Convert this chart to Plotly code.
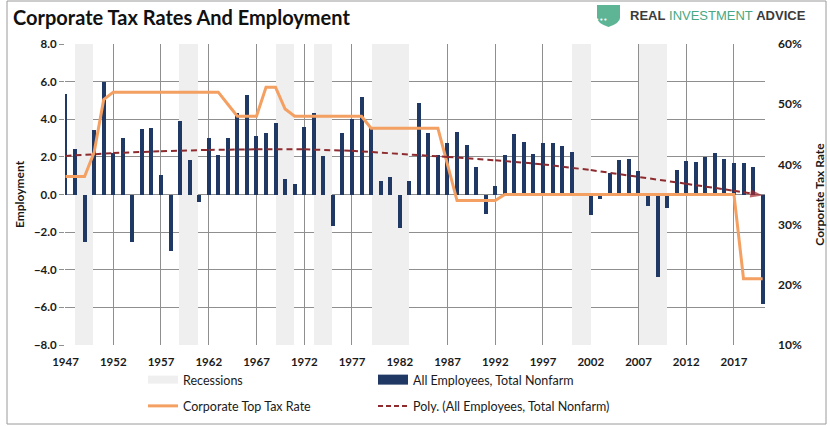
import plotly.graph_objects as go

# ---------------- data ----------------
years = list(range(1947, 2021))
employment = [5.35, 2.42, -2.5, 3.43, 5.97, 2.19, 2.99, -2.5, 3.47, 3.52,
              1.04, -2.99, 3.89, 1.84, -0.38, 2.99, 2.08, 2.99, 4.35, 5.29,
              3.11, 3.25, 3.79, 0.81, 0.56, 3.57, 4.32, 2.05, -1.68, 3.25,
              4.02, 5.2, 3.57, 0.74, 0.91, -1.8, 0.74, 4.85, 3.25, 2.1,
              2.72, 3.31, 2.62, 1.45, -1.04, 0.45, 2.1, 3.2, 2.79, 2.15,
              2.72, 2.72, 2.58, 2.24, 0.1, -1.1, -0.26, 1.16, 1.84, 1.89,
              1.25, -0.6, -4.4, -0.74, 1.3, 1.8, 1.71, 2.01, 2.19, 1.91,
              1.66, 1.66, 1.45, -5.82]
tax_rate = [38, 38, 38, 42, 50.75, 52, 52, 52, 52, 52,
            52, 52, 52, 52, 52, 52, 52, 50, 48, 48,
            48, 52.8, 52.8, 49.2, 48, 48, 48, 48, 48, 48,
            48, 48, 46, 46, 46, 46, 46, 46, 46, 46,
            40, 34, 34, 34, 34, 34, 35, 35, 35, 35,
            35, 35, 35, 35, 35, 35, 35, 35, 35, 35,
            35, 35, 35, 35, 35, 35, 35, 35, 35, 35,
            35, 21, 21, 21]
trend_years = [1947, 1952, 1957, 1962, 1967, 1972, 1977, 1982, 1987, 1992,
               1997, 2002, 2007, 2012, 2017, 2020]
trend_vals = [2.05, 2.2, 2.3, 2.37, 2.4, 2.4, 2.32, 2.17, 2.0, 1.82,
              1.6, 1.3, 0.95, 0.57, 0.2, -0.05]
recession_start = [1948.0, 1958.9, 1969.05, 1973.0, 1979.1, 2000.0, 2007.1]
recession_end = [1949.9, 1960.85, 1970.9, 1974.95, 1982.95, 2002.0, 2010.0]
x_tick_years = list(range(1947, 2018, 5))
y_left_range = [-8, 8]
y_right_range = [10, 60]

# ---------------- styling ----------------
FONT = "Lato"
NAVY = "#1F3864"
ORANGE = "#F4A062"
DARKRED = "#8E2B2E"
GRID = "#8f8f8f"
BAND = "#EFEFEF"
TXT = "#1a1a1a"

L, R, T, B = 65, 765, 44, 345
def px(x):
    return (x - L) / (R - L)
def py(y):
    return (B - y) / (B - T)

fig = go.Figure()

# Recession bands as bars spanning whole left axis
fig.add_trace(go.Bar(
    x=[(s + e) / 2 for s, e in zip(recession_start, recession_end)],
    y=[y_left_range[1] - y_left_range[0]] * len(recession_start),
    base=[y_left_range[0]] * len(recession_start),
    width=[e - s for s, e in zip(recession_start, recession_end)],
    marker=dict(color=BAND, line=dict(width=0)),
    name="Recessions", showlegend=False, hoverinfo="skip",
))

fig.add_trace(go.Bar(
    x=years, y=employment, width=0.42,
    marker=dict(color=NAVY, line=dict(width=0)),
    name="All Employees, Total Nonfarm", showlegend=False,
))

fig.add_trace(go.Scatter(
    x=years, y=tax_rate, yaxis="y2", mode="lines",
    line=dict(color=ORANGE, width=3),
    name="Corporate Top Tax Rate", showlegend=False,
))

# trend on a third (hidden) axis with the same range as the left one so it draws on top
fig.add_trace(go.Scatter(
    x=trend_years, y=trend_vals, yaxis="y3", mode="lines+markers",
    line=dict(color=DARKRED, width=2, dash="6px,4px"),
    marker=dict(symbol="arrow", size=[0] * (len(trend_years) - 1) + [13],
                angleref="previous", color="#A3262B", line=dict(width=0)),
    name="Poly. (All Employees, Total Nonfarm)", showlegend=False,
))

# legend entries
fig.add_trace(go.Scatter(x=[None], y=[None], mode="lines", name="Recessions",
                         line=dict(color=BAND, width=8), legend="legend", legendgroup="a"))
fig.add_trace(go.Scatter(x=[None], y=[None], mode="lines", name="Corporate Top Tax Rate",
                         line=dict(color=ORANGE, width=3), legend="legend", legendgroup="b"))
fig.add_trace(go.Scatter(x=[None], y=[None], mode="lines", name="All Employees, Total Nonfarm",
                         line=dict(color=NAVY, width=10), legend="legend2", legendgroup="c"))
fig.add_trace(go.Scatter(x=[None], y=[None], mode="lines", name="Poly. (All Employees, Total Nonfarm)",
                         line=dict(color=DARKRED, width=2, dash="5px,3px"), legend="legend2", legendgroup="d"))

legend_common = dict(
    orientation="v", xanchor="left", yanchor="top", bgcolor="rgba(0,0,0,0)",
    font=dict(family=FONT, size=12.5, color=TXT), itemwidth=30, tracegroupgap=7,
    borderwidth=0,
)

fig.update_layout(
    width=830, height=426,
    margin=dict(l=L, r=830 - R, t=T, b=426 - B, autoexpand=False),
    paper_bgcolor="white", plot_bgcolor="white",
    barmode="overlay", bargap=0,
    font=dict(family=FONT, color=TXT),
    showlegend=True,
    legend=dict(x=px(143), y=py(365), **legend_common),
    legend2=dict(x=px(373), y=py(365), **legend_common),
    xaxis=dict(
        range=[1946.95, 2020.25], tickmode="array", tickvals=x_tick_years,
        ticktext=[str(v) for v in x_tick_years],
        showgrid=True, gridcolor=GRID, gridwidth=1, zeroline=False,
        showline=False, ticks="", ticklabelstandoff=8,
        tickfont=dict(family=FONT, size=11.5, color=TXT, weight="bold"),
    ),
    yaxis=dict(
        range=y_left_range, dtick=2, tickformat=".1f",
        showgrid=True, gridcolor=GRID, gridwidth=1, zeroline=False,
        showline=False, ticks="outside", ticklen=5, tickcolor=GRID,
        tickfont=dict(family=FONT, size=11.5, color=TXT, weight="bold"),
        title=dict(text="Employment", standoff=6,
                   font=dict(family=FONT, size=12, color=TXT, weight="bold")),
    ),
    yaxis2=dict(
        range=y_right_range, dtick=10, ticksuffix="%", overlaying="y", side="right",
        showgrid=False, zeroline=False, showline=False, ticks="",
        ticklabelstandoff=12,
        tickfont=dict(family=FONT, size=12, color=TXT, weight="bold"),
        title=dict(text="Corporate Tax Rate", standoff=14,
                   font=dict(family=FONT, size=12, color=TXT, weight="bold")),
    ),
    yaxis3=dict(
        range=y_left_range, overlaying="y", side="left", visible=False,
        showgrid=False, zeroline=False,
    ),
)

# outer frame
fig.add_shape(type="rect", xref="paper", yref="paper",
              x0=px(7), x1=px(826), y0=py(424), y1=py(1),
              line=dict(color="#9a9a9a", width=1), fillcolor="rgba(0,0,0,0)", layer="below")

# title
fig.add_annotation(xref="paper", yref="paper", x=px(11), y=py(17),
                   xanchor="left", yanchor="middle", showarrow=False,
                   text="<b>Corporate Tax Rates And Employment</b>",
                   font=dict(family=FONT, size=20, color="#111111"))

# logo shield
sx0, sx1, sy0, sy1 = 597, 620, 5, 27
shield_path = (f"M {px(sx0)},{py(sy0)} L {px(sx1)},{py(sy0)} L {px(sx1)},{py(18)} "
               f"Q {px(sx1)},{py(23)} {px((sx0+sx1)/2)},{py(sy1)} "
               f"Q {px(sx0)},{py(23)} {px(sx0)},{py(18)} Z")
fig.add_shape(type="path", xref="paper", yref="paper", path=shield_path,
              fillcolor="#5DB596", line=dict(width=0))
fig.add_annotation(xref="paper", yref="paper", x=px(608.5), y=py(14),
                   showarrow=False, text="•••", font=dict(family="DejaVu Sans", size=7, color="white"))
fig.add_annotation(xref="paper", yref="paper", x=px(628), y=py(15.5),
                   xanchor="left", yanchor="middle", showarrow=False,
                   text=("<span style='color:#3b3b3b'><b>REAL</b></span> "
                         "<span style='color:#47A883'>INVESTMENT</span> "
                         "<span style='color:#3b3b3b'><b>ADVICE</b></span>"),
                   font=dict(family="Liberation Sans", size=13))

fig.write_html("out.html", config={"displayModeBar": False},
               post_script="document.body.style.margin='0';")
